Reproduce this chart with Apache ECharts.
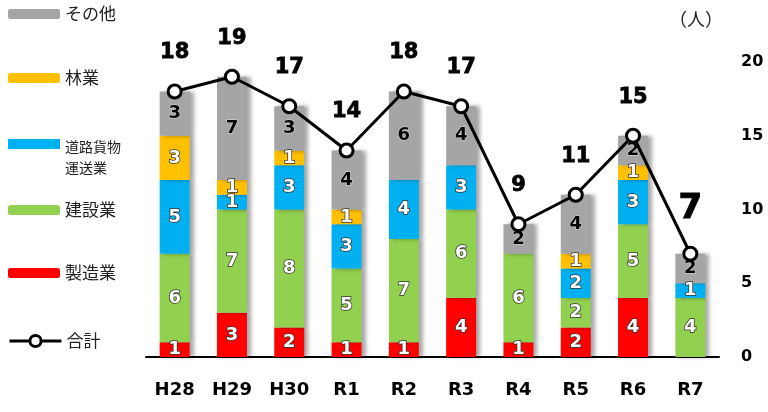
<!DOCTYPE html>
<html lang="ja">
<head>
<meta charset="UTF-8">
<title>業種別 死亡者数</title>
<script src="https://cdn.jsdelivr.net/npm/echarts@6/dist/echarts.min.js"></script>
<style>body{margin:0}</style>
</head>
<body>
<div id="chart" style="width:768px;height:412px;"></div>
<script type="text/javascript">
var years = ['H28', 'H29', 'H30', 'R1', 'R2', 'R3', 'R4', 'R5', 'R6', 'R7'];
var seizo = [1, 3, 2, 1, 1, 4, 1, 2, 4, 0];
var kensetsu = [6, 7, 8, 5, 7, 6, 6, 2, 5, 4];
var unso = [5, 1, 3, 3, 4, 3, 0, 2, 3, 1];
var ringyo = [3, 1, 1, 1, 0, 0, 0, 1, 1, 0];
var sonota = [3, 7, 3, 4, 6, 4, 2, 4, 2, 2];
var total = [18, 19, 17, 14, 18, 17, 9, 11, 15, 7];
var yTicks = [0, 5, 10, 15, 20];

var chart = echarts.init(document.getElementById('chart'));
var font = '"DejaVu Sans", "Noto Sans CJK JP", sans-serif';
var jpFont = '"Noto Sans CJK JP", sans-serif';

function hideZero(p) { return p.value ? p.value : ''; }

function barSeries(name, data, color, dark) {
    return {
        name: name,
        type: 'bar',
        stack: 'a',
        barWidth: 30,
        data: data,
        itemStyle: {
            color: color,
            shadowColor: 'rgba(0,0,0,0.35)',
            shadowBlur: 4,
            shadowOffsetX: 4
        },
        label: {
            show: true,
            formatter: hideZero,
            fontFamily: font,
            fontWeight: 'bold',
            fontSize: 18,
            color: dark ? '#000' : '#fff',
            textBorderColor: dark ? 'rgba(255,255,255,0.6)' : '#333',
            textBorderWidth: dark ? 1 : 1.5
        }
    };
}

function legendAt(name, top) {
    return {
        data: [name],
        left: 8,
        top: top,
        padding: 0,
        itemWidth: 52,
        itemHeight: 10,
        textStyle: {fontSize: 17, color: '#222', fontFamily: jpFont, lineHeight: 20}
    };
}

var option = {
    animation: false,
    textStyle: {fontFamily: font},
    legend: [
        legendAt('その他', 4),
        legendAt('林業', 68),
        {
            data: [{name: '道路貨物運送業', icon: 'path://M0,0H52V10H0Z M0,36L0.01,36'}],
            left: 8,
            top: 136,
            padding: 0,
            itemWidth: 52,
            itemHeight: 36,
            formatter: function () { return '道路貨物\n運送業'; },
            textStyle: {fontSize: 14, color: '#222', fontFamily: jpFont, lineHeight: 21}
        },
        legendAt('建設業', 200),
        legendAt('製造業', 263),
        {
            data: ['合計'],
            left: 8,
            top: 331,
            padding: 0,
            itemWidth: 52,
            itemHeight: 14,
            lineStyle: {width: 3},
            itemStyle: {borderWidth: 3},
            textStyle: {fontSize: 17, color: '#222', fontFamily: jpFont, lineHeight: 20}
        }
    ],
    grid: {left: 146, right: 49, top: 62, bottom: 55},
    xAxis: {
        type: 'category',
        data: years,
        axisLine: {lineStyle: {color: '#000', width: 2}},
        axisTick: {show: false},
        axisLabel: {fontSize: 18, fontWeight: 'bold', color: '#000', margin: 24, fontFamily: font}
    },
    yAxis: {
        type: 'value',
        position: 'right',
        min: yTicks[0],
        max: yTicks[yTicks.length - 1],
        interval: 5,
        name: '（人）',
        nameLocation: 'end',
        nameGap: 34,
        nameTextStyle: {fontSize: 18, color: '#222', fontFamily: jpFont, align: 'right', padding: [0, -4, 0, 0]},
        axisLine: {show: false},
        axisTick: {show: false},
        splitLine: {show: false},
        axisLabel: {fontSize: 16, fontWeight: 'bold', color: '#000', margin: 22, fontFamily: font}
    },
    series: [
        barSeries('製造業', seizo, '#ff0000', false),
        barSeries('建設業', kensetsu, '#92d050', false),
        barSeries('道路貨物運送業', unso, '#00b0f0', false),
        barSeries('林業', ringyo, '#ffc000', false),
        barSeries('その他', sonota, '#a5a5a5', true),
        {
            name: '合計',
            type: 'line',
            data: total,
            z: 5,
            symbol: 'circle',
            symbolSize: 13,
            lineStyle: {color: '#000', width: 3},
            itemStyle: {color: '#fff', borderColor: '#000', borderWidth: 3},
            label: {
                show: true,
                position: 'top',
                distance: 20,
                fontFamily: font,
                fontWeight: 'bold',
                fontSize: 21,
                color: '#000',
                textBorderColor: '#000',
                textBorderWidth: 0.8,
                formatter: function (p) {
                    return p.dataIndex === total.length - 1 ? '{big|' + p.value + '}' : p.value;
                },
                rich: {
                    big: {fontSize: 34, fontWeight: 'bold', color: '#000', fontFamily: font,
                          textBorderColor: '#000', textBorderWidth: 1}
                }
            }
        }
    ]
};

chart.setOption(option);
</script>
</body>
</html>
